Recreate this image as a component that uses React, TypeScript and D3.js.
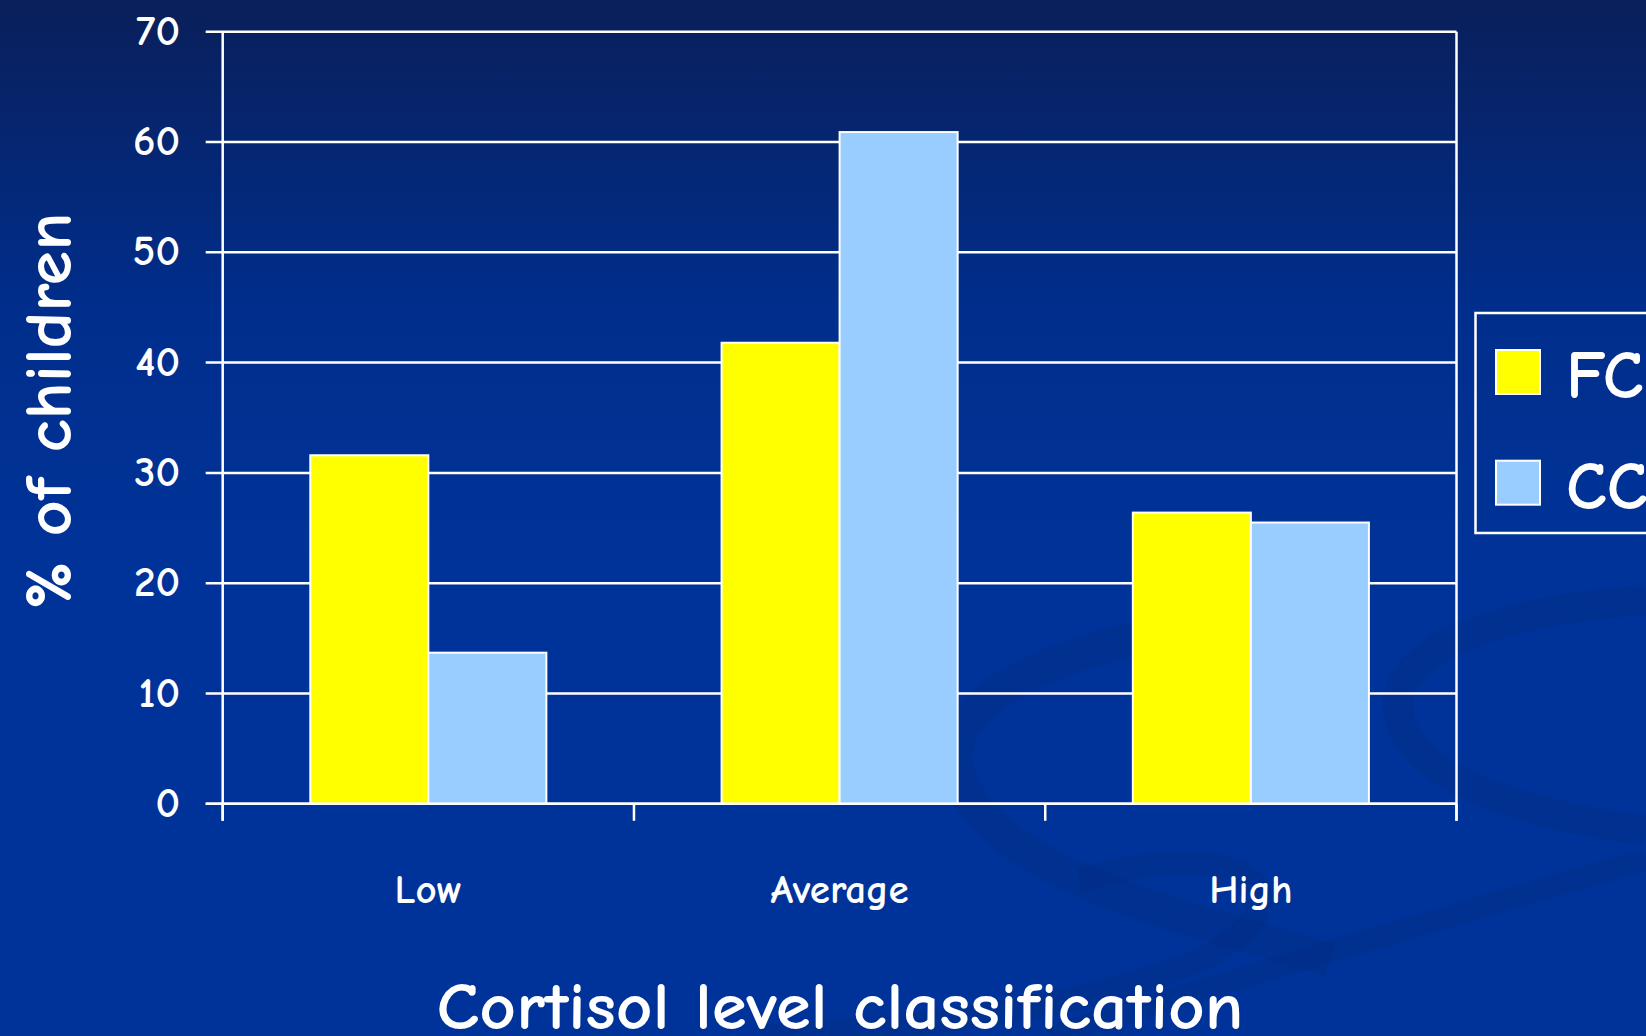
import React from "react";
import * as d3 from "d3";

const categories = ["Low", "Average", "High"];
const seriesNames = ["FC", "CC"];
const fcValues = [31.6, 41.8, 26.4];
const ccValues = [13.7, 60.9, 25.5];
const yTicks = [0, 10, 20, 30, 40, 50, 60, 70];
const seriesColors = ["#ffff00", "#99ccff"];

const W = 1646;
const H = 1036;
const FONT = "'Comic Sans MS', 'Comic Neue', 'Open Sans', 'Noto Sans', sans-serif";

export default function App() {
  const left = 222.7;
  const right = 1456.5;
  const top = 31.7;
  const bottom = 803.8;

  const x = d3.scaleBand<string>().domain(categories).range([left, right]).paddingInner(0.426).paddingOuter(0.213);
  const xs = d3.scaleBand<string>().domain(seriesNames).range([0, x.bandwidth()]).padding(0);
  const y = d3.scaleLinear().domain([0, 70]).range([bottom, top]);
  const step = x.step();
  const catTicks = d3.range(categories.length + 1).map((i) => left + i * step);
  const values = [fcValues, ccValues];

  return (
    <svg width={W} height={H} style={{ position: "fixed", left: 0, top: 0, display: "block" }}>
      <defs>
        <linearGradient id="bg" x1="0" y1="0" x2="0" y2="1">
          <stop offset="0" stopColor="#0a1f5a" />
          <stop offset="0.3" stopColor="#002e8c" />
          <stop offset="0.55" stopColor="#003399" />
          <stop offset="1" stopColor="#003399" />
        </linearGradient>
      </defs>
      <rect x={0} y={0} width={W} height={H} fill="url(#bg)" />
      {/* decorative swooshes */}
      <g fill="none" stroke="#002a80" strokeOpacity={0.35}>
        <path d="M 1300 610 C 1050 640, 930 700, 960 780 C 1000 880, 1200 920, 1330 960" strokeWidth={34} />
        <path d="M 1080 880 C 1250 830, 1320 900, 1200 960 C 1080 1010, 900 1030, 760 1036" strokeWidth={24} />
        <path d="M 1646 600 C 1500 610, 1380 650, 1400 720 C 1420 790, 1560 820, 1646 830" strokeWidth={30} />
        <path d="M 1050 1036 C 1300 960, 1500 900, 1646 860" strokeWidth={22} />
      </g>

      {/* gridlines */}
      <g stroke="#ffffff" strokeWidth={2.5}>
        {yTicks.map((t) => (
          <line key={t} x1={left - 17} x2={right} y1={y(t)} y2={y(t)} />
        ))}
        <line x1={left} x2={left} y1={top} y2={bottom + 17} />
        <line x1={right} x2={right} y1={top} y2={bottom + 17} />
        {catTicks.map((cx, i) => (
          <line key={i} x1={cx} x2={cx} y1={bottom} y2={bottom + 17} />
        ))}
      </g>

      {/* bars */}
      <g>
        {categories.map((c, ci) =>
          seriesNames.map((s, si) => {
            const v = values[si][ci];
            const bx = (x(c) as number) + (xs(s) as number);
            return (
              <rect
                key={c + s}
                x={bx}
                y={y(v)}
                width={xs.bandwidth()}
                height={bottom - y(v)}
                fill={seriesColors[si]}
                stroke="#ffffff"
                strokeWidth={2}
              />
            );
          })
        )}
      </g>
      <line x1={left - 17} x2={right} y1={bottom} y2={bottom} stroke="#ffffff" strokeWidth={2.5} />

      {/* y tick labels */}
      <g fill="#ffffff" fontFamily={FONT} fontSize={43} fontWeight="bold" textAnchor="end">
        {yTicks.map((t) => (
          <text key={t} x={180} y={y(t) + 13}>
            {t}
          </text>
        ))}
      </g>

      {/* category labels */}
      <g fill="#ffffff" fontFamily={FONT} fontSize={41} fontWeight="bold" textAnchor="middle">
        {categories.map((c) => (
          <text key={c} x={(x(c) as number) + x.bandwidth() / 2} y={903}>
            {c}
          </text>
        ))}
      </g>

      {/* axis titles */}
      <text
        x={840}
        y={1029}
        fill="#ffffff"
        fontFamily={FONT}
        fontSize={66}
        fontWeight="bold"
        textAnchor="middle"
        textLength={807}
        lengthAdjust="spacingAndGlyphs"
      >
        Cortisol level classification
      </text>
      <text
        transform="translate(71 411) rotate(-90)"
        fill="#ffffff"
        fontFamily={FONT}
        fontSize={66}
        fontWeight="bold"
        textAnchor="middle"
        textLength={397}
        lengthAdjust="spacingAndGlyphs"
      >
        % of children
      </text>

      {/* legend */}
      <rect x={1475.5} y={313} width={200} height={220} fill="none" stroke="#ffffff" strokeWidth={2.5} />
      {seriesNames.map((s, i) => {
        const sy = 350 + i * 110.7;
        return (
          <g key={s}>
            <rect x={1496} y={sy} width={44} height={44} fill={seriesColors[i]} stroke="#ffffff" strokeWidth={2} />
            <text x={1566} y={sy + 48} fill="#ffffff" fontFamily={FONT} fontSize={68} fontWeight="bold">
              {s}
            </text>
          </g>
        );
      })}
    </svg>
  );
}
